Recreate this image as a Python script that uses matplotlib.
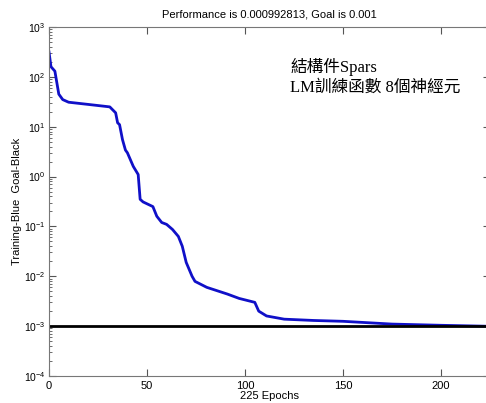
import matplotlib
matplotlib.use("Agg")
import matplotlib.pyplot as plt
import numpy as np

# training performance
epochs = [0, 1, 3, 5, 7, 10, 20, 31, 34, 35, 36, 37.5, 39, 40, 43, 45.5, 46.5, 48, 53, 55,
          57.5, 60, 63, 66, 68, 70, 73, 74.5, 80.5, 91, 97, 105, 107, 111, 120, 135,
          150, 175, 200, 225]
perf = [316, 160, 130, 45, 35, 31, 28, 25, 19, 12, 11, 5.5, 3.4, 3.0, 1.6, 1.1, 0.35, 0.31,
        0.25, 0.16, 0.12, 0.11, 0.087, 0.063, 0.04, 0.019, 0.01, 0.0079, 0.006, 0.0044,
        0.0036, 0.003, 0.002, 0.0016, 0.00138, 0.0013, 0.00125, 0.0011, 0.00104,
        0.000992813]
goal = 0.001
n_epochs = 225
y_decades = [1e-4, 1e-3, 1e-2, 1e-1, 1e0, 1e1, 1e2, 1e3]

plt.rcParams['font.family'] = ['Liberation Sans', 'DejaVu Sans']
plt.rcParams['mathtext.fontset'] = 'custom'
plt.rcParams['mathtext.rm'] = 'Liberation Sans'

fig = plt.figure(figsize=(4.86, 4.03), dpi=100)
ax = fig.add_axes([49 / 486, 27 / 403, 441 / 486, 349 / 403])

ax.semilogy(epochs, perf, color='#1010c8', linewidth=2)
ax.axhline(goal, color='black', linewidth=2)

ax.set_xlim(0, n_epochs)
ax.set_ylim(1e-4, 1e3)
ax.set_xticks([0, 50, 100, 150, 200])
ax.set_yticks(y_decades)
ax.tick_params(which='both', direction='in', top=True, right=True,
               labelsize=8, colors='#555555', labelcolor='black')
ax.tick_params(axis='y', labelsize=7.5, pad=2.5)
ax.tick_params(which='major', length=5)
ax.tick_params(which='minor', length=2.5)
for s in ax.spines.values():
    s.set_color('#777777')

ax.set_title('Performance is 0.000992813, Goal is 0.001', fontsize=8, pad=7)
ax.set_xlabel('225 Epochs', fontsize=8, labelpad=0)
ax.set_ylabel('Training-Blue  Goal-Black', fontsize=8, labelpad=1)

cjk = ['Liberation Serif', 'Noto Sans CJK TC']
ax.text(0.547, 0.885, '結構件Spars', transform=ax.transAxes, fontsize=12,
        family=cjk, va='center')
ax.text(0.547, 0.825, 'LM訓練函數 8個神經元', transform=ax.transAxes, fontsize=12,
        family=cjk, va='center')

fig.savefig('out.png', dpi=100)
